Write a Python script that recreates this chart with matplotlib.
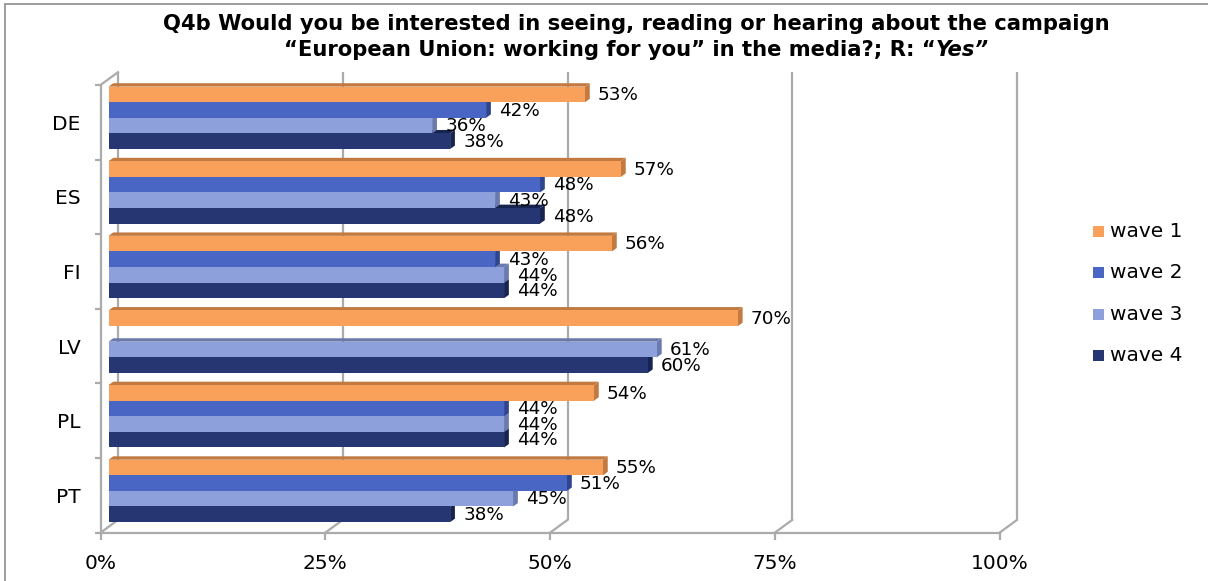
import numpy as np
import matplotlib
matplotlib.use("Agg")
import matplotlib.pyplot as plt
from matplotlib.patches import Polygon, Rectangle
from matplotlib.transforms import offset_copy
from matplotlib.lines import Line2D

# ---- data -------------------------------------------------------------
countries = ["DE", "ES", "FI", "LV", "PL", "PT"]
wave_names = ["wave 1", "wave 2", "wave 3", "wave 4"]
wave1 = [53, 57, 56, 70, 54, 55]
wave2 = [42, 48, 43, np.nan, 44, 51]
wave3 = [36, 43, 44, 61, 44, 45]
wave4 = [38, 48, 44, 60, 44, 38]
x_ticks = [0, 25, 50, 75, 100]
x_tick_labels = ["0%", "25%", "50%", "75%", "100%"]
title_line1 = "Q4b Would you be interested in seeing, reading or hearing about the campaign"
title_line2a = "\u201cEuropean Union: working for you\u201d in the media?; R: \u201c"
title_line2b = "Yes\u201d"

waves = [wave1, wave2, wave3, wave4]

# ---- styling ------------------------------------------------------------
face_colors = ["#F9A15A", "#4A66C4", "#8EA0DC", "#263673"]
side_colors = ["#C27A40", "#2F468F", "#6A79AE", "#182450"]
grid_color = "#ABABAB"
text_color = "#000000"
plt.rcParams["font.family"] = ["DejaVu Sans"]

W, H = 1208, 581
fig = plt.figure(figsize=(W / 100, H / 100), dpi=100)

# front plane of the plot box, in pixels
x0_px, x1_px = 100.5, 999.5
y_top_px, y_bot_px = 85.0, 532.7
ax = fig.add_axes([x0_px / W, 1 - y_bot_px / H,
                   (x1_px - x0_px) / W, (y_bot_px - y_top_px) / H])
ax.set_xlim(0, 100)
ax.set_ylim(len(countries), 0)
ax.patch.set_visible(False)

px_x = (x1_px - x0_px) / 100.0          # pixels per percent
px_y = (y_bot_px - y_top_px) / len(countries)  # pixels per category

# outer chart border (open on the right and bottom)
fig.patches.append(Rectangle((5 / W, -0.05), 1.2, 1.05 - 3.5 / H,
                             transform=fig.transFigure, fill=False,
                             edgecolor="#8C8C8C", linewidth=1.2))

# ---- 3-D box: back wall gridlines, floor and side wall --------------------
back = offset_copy(ax.transData, fig=fig, x=17.5, y=12.8, units="dots")
n = len(countries)
for t in x_ticks:
    ax.add_line(Line2D([t, t], [0, n], transform=back, color=grid_color,
                       lw=1.6, solid_capstyle="butt", clip_on=False, zorder=1))
    # floor diagonal from the front edge to the back wall
    xs_disp = [ax.transData.transform((t, n)), back.transform((t, n))]
    pts = ax.transData.inverted().transform(xs_disp)
    ax.add_line(Line2D(pts[:, 0], pts[:, 1], color=grid_color, lw=1.6,
                       clip_on=False, zorder=1))
# top of the left side wall
pts = ax.transData.inverted().transform([ax.transData.transform((0, 0)),
                                         back.transform((0, 0))])
ax.add_line(Line2D(pts[:, 0], pts[:, 1], color=grid_color, lw=1.6,
                   clip_on=False, zorder=1))

for side in ["top", "right"]:
    ax.spines[side].set_visible(False)
for side in ["left", "bottom"]:
    ax.spines[side].set_color(grid_color)
    ax.spines[side].set_linewidth(1.6)

ax.set_xticks(x_ticks)
ax.set_xticklabels(x_tick_labels, fontsize=14.5, color=text_color)
ax.tick_params(axis="x", direction="out", length=5, width=1.6,
               color=grid_color, pad=10)
ax.set_yticks(np.arange(n + 1))
ax.set_yticklabels([])
ax.tick_params(axis="y", which="major", direction="out", length=4, width=1.6,
               color=grid_color)
ax.set_yticks(np.arange(n) + 0.5, minor=True)
ax.set_yticklabels(countries, minor=True, fontsize=14.5, color=text_color)
ax.tick_params(axis="y", which="minor", length=0, pad=14.5)

# ---- bars --------------------------------------------------------------
bar_trans = offset_copy(ax.transData, fig=fig, x=8.0, y=4.5, units="dots")
label_trans = offset_copy(ax.transData, fig=fig, x=8.0 + 13.0, y=3.8,
                          units="dots")
bar_h = 15.6 / px_y
ddx = 4.8 / px_x
ddy = 3.4 / px_y

for i in reversed(range(n)):
    for j in reversed(range(len(waves))):
        v = waves[j][i]
        if np.isnan(v):
            continue
        yc = i + 0.5 + (j - 1.5) * bar_h
        yt, yb = yc - bar_h / 2, yc + bar_h / 2
        top = Polygon([(0, yt), (v, yt), (v + ddx, yt - ddy), (ddx, yt - ddy)],
                      closed=True, transform=bar_trans, facecolor=side_colors[j],
                      edgecolor="none", clip_on=False, zorder=3)
        side = Polygon([(v, yt), (v, yb), (v + ddx, yb - ddy), (v + ddx, yt - ddy)],
                       closed=True, transform=bar_trans, facecolor=side_colors[j],
                       edgecolor="none", clip_on=False, zorder=3)
        ax.add_patch(top)
        ax.add_patch(side)
        ax.barh(yc, v, height=bar_h, left=0, color=face_colors[j],
                edgecolor="none", transform=bar_trans, clip_on=False, zorder=3)
        ax.text(v, yc, f"{v:.0f}%", transform=label_trans, ha="left",
                va="center", fontsize=13.2, color=text_color, zorder=5)

# ---- legend --------------------------------------------------------------
leg_y = [231.5, 272.5, 314.0, 355.5]
for name, col, yy in zip(wave_names, face_colors, leg_y):
    fig.patches.append(Rectangle((1093 / W, 1 - (yy + 5.5) / H), 11 / W, 11 / H,
                                 transform=fig.transFigure, facecolor=col,
                                 edgecolor="none"))
    fig.text(1110 / W, 1 - yy / H, name, fontsize=14.5, color=text_color,
             ha="left", va="center")

# ---- title ---------------------------------------------------------------
cx = 636 / W
fig.text(cx, 1 - 30 / H, title_line1, fontsize=15.2, fontweight="bold",
         ha="center", va="baseline", color=text_color)
r = fig.canvas.get_renderer()
ta = fig.text(0, 1 - 55.5 / H, title_line2a, fontsize=15.2, fontweight="bold",
              ha="left", va="baseline", color=text_color)
tb = fig.text(0, 1 - 55.5 / H, title_line2b, fontsize=15.2, fontweight="bold",
              style="italic", ha="left", va="baseline", color=text_color)
wa = ta.get_window_extent(r).width
wb = tb.get_window_extent(r).width
start = cx * W - (wa + wb) / 2
ta.set_x(start / W)
tb.set_x((start + wa) / W)

fig.savefig("out.png", dpi=100)
